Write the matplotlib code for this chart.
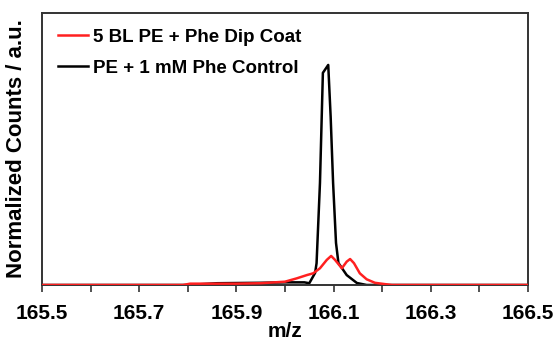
import matplotlib
matplotlib.use("Agg")
import matplotlib.pyplot as plt
from matplotlib.ticker import MultipleLocator

plt.rcParams['font.family'] = ['Liberation Sans', 'DejaVu Sans']
plt.rcParams['font.weight'] = 'bold'

# Black: PE + 1 mM Phe Control
black_mz = [165.50, 165.80, 165.86, 165.95, 166.00, 166.04, 166.05, 166.062, 166.065,
            166.072, 166.078, 166.082, 166.089, 166.094, 166.099, 166.105, 166.110,
            166.127, 166.148, 166.168, 166.50]
black_int = [0.0, 0.0, 0.008, 0.010, 0.012, 0.012, 0.008, 0.055, 0.099,
             0.464, 0.964, 0.977, 1.000, 0.764, 0.464, 0.191, 0.100,
             0.045, 0.009, 0.0, 0.0]

# Red: 5 BL PE + Phe Dip Coat
red_mz = [165.50, 165.79, 165.805, 165.90, 165.95, 166.00, 166.024, 166.045, 166.058,
          166.072, 166.086, 166.095, 166.103, 166.117, 166.127, 166.134, 166.142,
          166.154, 166.168, 166.185, 166.202, 166.22, 166.50]
red_int = [0.0, 0.0, 0.006, 0.006, 0.008, 0.015, 0.030, 0.045, 0.053,
           0.076, 0.114, 0.132, 0.114, 0.076, 0.106, 0.118, 0.099,
           0.053, 0.026, 0.010, 0.005, 0.0, 0.0]

labels = ['5 BL PE + Phe Dip Coat', 'PE + 1 mM Phe Control']
xticks = [165.5, 165.7, 165.9, 166.1, 166.3, 166.5]

fig = plt.figure(figsize=(5.56, 3.40), dpi=100)
ax = fig.add_axes([0.0755, 0.1618, 0.8741, 0.8])

ax.plot(black_mz, black_int, color='black', lw=1.8, label=labels[1], zorder=2)
ax.plot(red_mz, red_int, color='#ff2020', lw=1.8, label=labels[0], zorder=3)

ax.set_xlim(165.5, 166.5)
ax.set_ylim(0, 1.236)
ax.set_xticks(xticks)
ax.set_xticklabels([f"{t:.1f}" for t in xticks], fontsize=15, fontweight='bold')
ax.xaxis.set_minor_locator(MultipleLocator(0.1))
ax.tick_params(axis='x', which='both', direction='out', length=5, width=1.2, color='#333333', pad=9)
ax.set_yticks([])
for s in ax.spines.values():
    s.set_linewidth(1.4)
    s.set_color('#333333')

ax.set_xlabel('m/z', fontsize=15, fontweight='bold', labelpad=-1)
ax.set_ylabel('Normalized Counts / a.u.', fontsize=16, fontweight='bold')
ax.yaxis.set_label_coords(-0.031, 0.5)

handles, labs = ax.get_legend_handles_labels()
order = [1, 0]
ax.legend([handles[i] for i in order], [labs[i] for i in order], loc='upper left',
          frameon=False, handlelength=1.6, handletextpad=0.27,
          labelspacing=0.72, borderaxespad=0.45, prop={'weight': 'bold', 'size': 13.5})

fig.savefig('out.png', dpi=100)
